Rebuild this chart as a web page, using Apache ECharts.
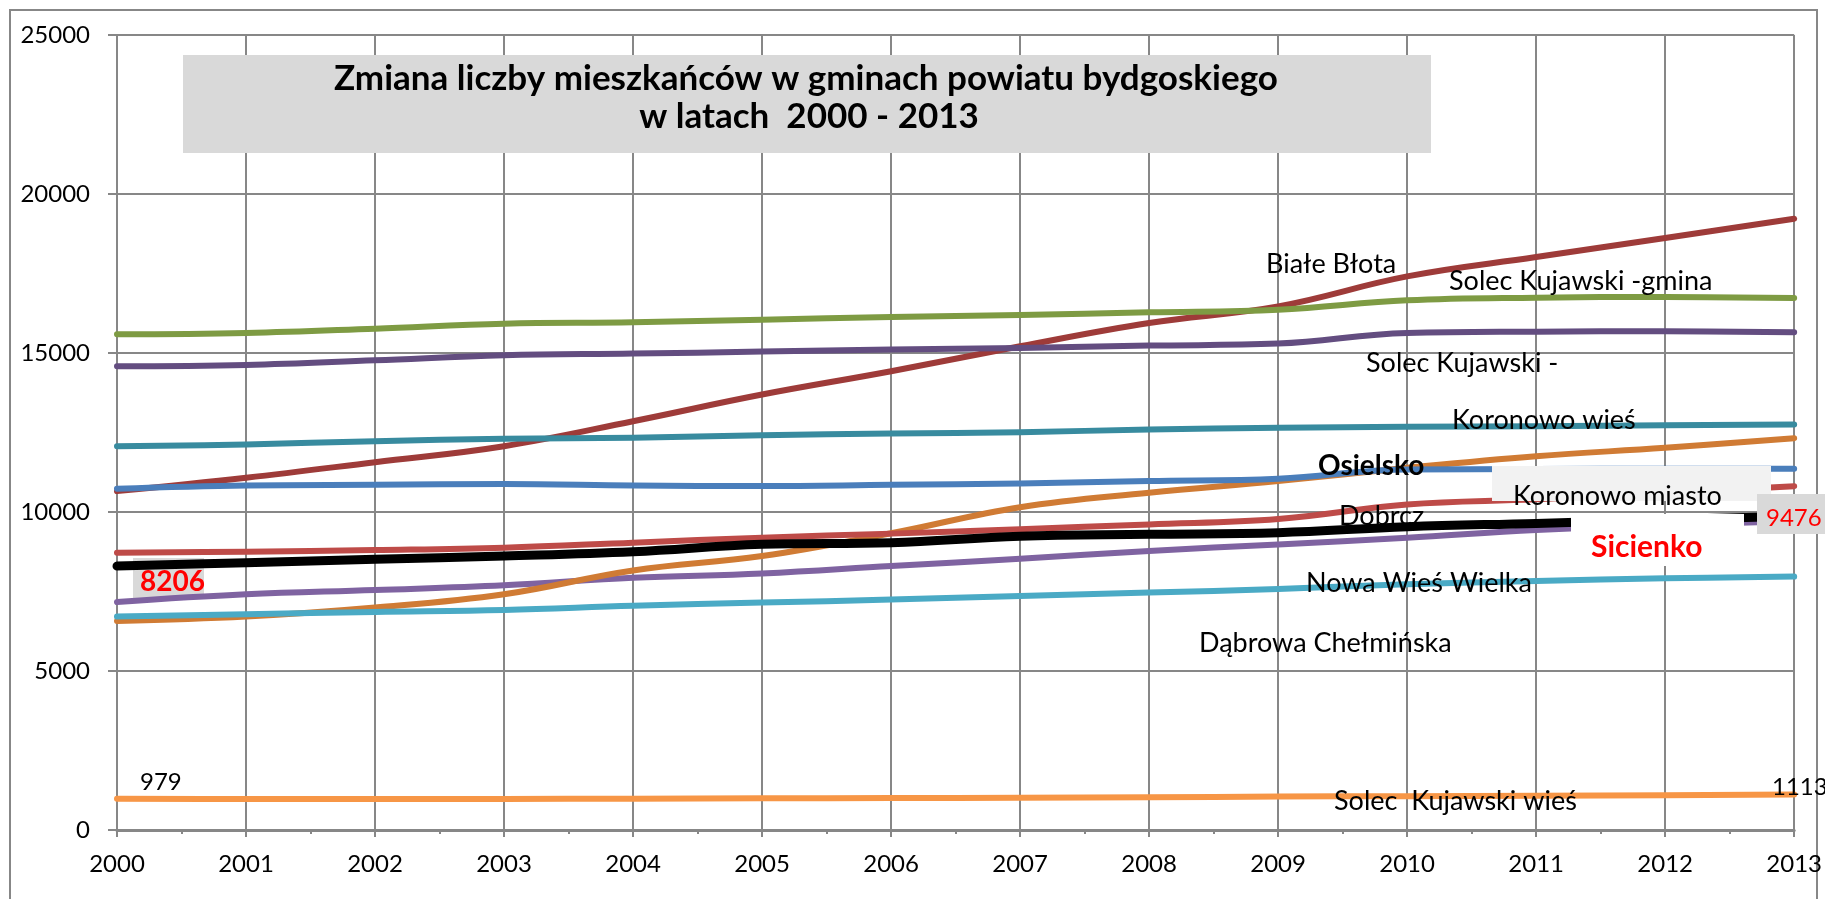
<!DOCTYPE html>
<html>
<head>
<meta charset="utf-8">
<script src="https://cdn.jsdelivr.net/npm/echarts@6/dist/echarts.min.js"></script>
<style>html,body{margin:0;padding:0;background:#fff;}#c{width:1825px;height:899px;}</style>
</head>
<body>
<div id="c"></div>
<script>
const years = [2000,2001,2002,2003,2004,2005,2006,2007,2008,2009,2010,2011,2012,2013];
const yTicks = [0,5000,10000,15000,20000,25000];

const bialeBlota     = [10657,11077,11567,12070,12855,13693,14425,15211,15945,16467,17409,18018,18615,19221];
const solecGmina     = [15588,15631,15766,15923,15965,16049,16133,16196,16279,16363,16655,16740,16761,16730];
const solecMiasto    = [14583,14626,14771,14928,14981,15044,15107,15160,15232,15295,15631,15672,15682,15651];
const koronowoWies   = [12070,12123,12228,12301,12333,12416,12469,12510,12594,12647,12678,12699,12730,12751];
const koronowoMiasto = [10731,10835,10857,10877,10835,10814,10857,10898,10971,11046,11338,11350,11360,11360];
const osielsko       = [6574,6711,6994,7412,8160,8615,9330,10150,10606,10971,11391,11756,12019,12321];
const dobrcz         = [8721,8753,8805,8879,9035,9193,9320,9460,9610,9780,10239,10400,10600,10813];
const sicienko       = [8300,8407,8511,8616,8750,8982,9035,9240,9297,9349,9537,9642,9760,9870];
const dabrowa        = [7171,7412,7547,7695,7930,8065,8301,8530,8775,8980,9193,9432,9600,9700];
const nowaWies       = [6711,6784,6856,6919,7050,7151,7245,7359,7465,7580,7726,7830,7915,7968];
const solecWies      = [979,975,972,975,985,995,1005,1015,1030,1050,1065,1080,1095,1113];

const FONT = 'Lato, "Liberation Sans", sans-serif';

function mk(name, arr, color, width) {
  return {
    name: name, type: 'line', smooth: 0.4, showSymbol: false, symbol: 'none',
    data: years.map((y, i) => [y, arr[i]]),
    lineStyle: { color: color, width: width || 6, cap: 'round', join: 'round' },
    itemStyle: { color: color },
    emphasis: { disabled: true },
    z: 3
  };
}

const series = [
  mk('Białe Błota', bialeBlota, '#9e3b39'),
  mk('Dąbrowa Chełmińska', dabrowa, '#7f63a1'),
  mk('Osielsko', osielsko, '#d07b34'),
  mk('Dobrcz', dobrcz, '#be4b48'),
  mk('Koronowo miasto', koronowoMiasto, '#4a7ebb'),
  mk('Koronowo wieś', koronowoWies, '#388b9f'),
  mk('Solec Kujawski - miasto', solecMiasto, '#634d80'),
  mk('Solec Kujawski - gmina', solecGmina, '#7e9b43'),
  mk('Nowa Wieś Wielka', nowaWies, '#4aaac5'),
  mk('Sicienko', sicienko, '#000000', 9),
  mk('Solec Kujawski wieś', solecWies, '#f79646')
];

function txt(x, y, s, opts) {
  opts = opts || {};
  return {
    type: 'text', x: x, y: y, z: opts.z || 50,
    style: {
      text: s, fill: opts.color || '#000',
      font: (opts.weight || 'normal') + ' ' + (opts.size || 27) + 'px ' + FONT,
      textAlign: opts.align || 'left', textVerticalAlign: 'middle'
    }
  };
}
function box(x, y, w, h, fill, z) {
  return { type: 'rect', shape: { x: x, y: y, width: w, height: h }, z: z || 40, style: { fill: fill } };
}

const option = {
  animation: false,
  backgroundColor: '#ffffff',
  grid: { left: 117, right: 26, top: 35, bottom: 69, containLabel: false },
  xAxis: {
    type: 'value', min: 2000, max: 2013, interval: 1,
    axisLine: { show: true, lineStyle: { color: '#878787', width: 3 } },
    axisTick: { show: true, length: 7, lineStyle: { color: '#878787', width: 2 } },
    minorTick: { show: true, splitNumber: 2, length: 4, lineStyle: { color: '#878787', width: 2 } },
    splitLine: { show: true, lineStyle: { color: '#878787', width: 2 } },
    axisLabel: { color: '#000', fontFamily: FONT, fontSize: 24, margin: 22, formatter: v => String(v) }
  },
  yAxis: {
    type: 'value', min: 0, max: 25000, interval: 5000,
    axisLine: { show: true, lineStyle: { color: '#878787', width: 2 } },
    axisTick: { show: true, length: 9, lineStyle: { color: '#878787', width: 2 } },
    splitLine: { show: true, lineStyle: { color: '#878787', width: 2 } },
    axisLabel: { color: '#000', fontFamily: FONT, fontSize: 24, margin: 27,
      formatter: v => yTicks.indexOf(v) >= 0 ? String(v) : '' }
  },
  series: series,
  graphic: { elements: [
    { type: 'rect', shape: { x: 10, y: 10, width: 1807, height: 900 }, z: 0, silent: true,
      style: { fill: 'none', stroke: '#878787', lineWidth: 2 } },
    box(183, 55, 1248, 98, '#d9d9d9', 40),
    txt(806, 79, 'Zmiana liczby mieszkańców w gminach powiatu bydgoskiego', { size: 35, weight: 'bold', align: 'center' }),
    txt(809, 117, 'w latach  2000 - 2013', { size: 35, weight: 'bold', align: 'center' }),

    txt(1266, 264, 'Białe Błota'),
    txt(1449, 281, 'Solec Kujawski -gmina'),
    txt(1366, 363, 'Solec Kujawski -'),
    txt(1452, 420, 'Koronowo wieś'),
    txt(1318, 466, 'Osielsko', { weight: 'bold', size: 28 }),
    box(1492, 466, 279, 35, '#f2f2f2', 40),
    txt(1513, 496, 'Koronowo miasto'),
    txt(1339, 516, 'Dobrcz'),
    box(1571, 514, 173, 52, '#ffffff', 40),
    txt(1591, 547, 'Sicienko', { weight: 'bold', color: '#ff0000', size: 30 }),
    box(1757, 494, 70, 40, '#d9d9d9', 40),
    txt(1766, 518, '9476', { color: '#ff0000', size: 24 }),
    box(133, 558, 71, 41, '#d9d9d9', 2),
    txt(140, 582, '8206', { color: '#ff0000', weight: 'bold', size: 28 }),
    txt(1306, 583, 'Nowa Wieś Wielka'),
    txt(1199, 643, 'Dąbrowa Chełmińska'),
    txt(140, 782, '979', { size: 24 }),
    txt(1772, 787, '1113', { size: 24 }),
    txt(1334, 801, 'Solec  Kujawski wieś')
  ] }
};

const chart = echarts.init(document.getElementById('c'), null, { renderer: 'canvas' });
chart.setOption(option);
</script>
</body>
</html>
